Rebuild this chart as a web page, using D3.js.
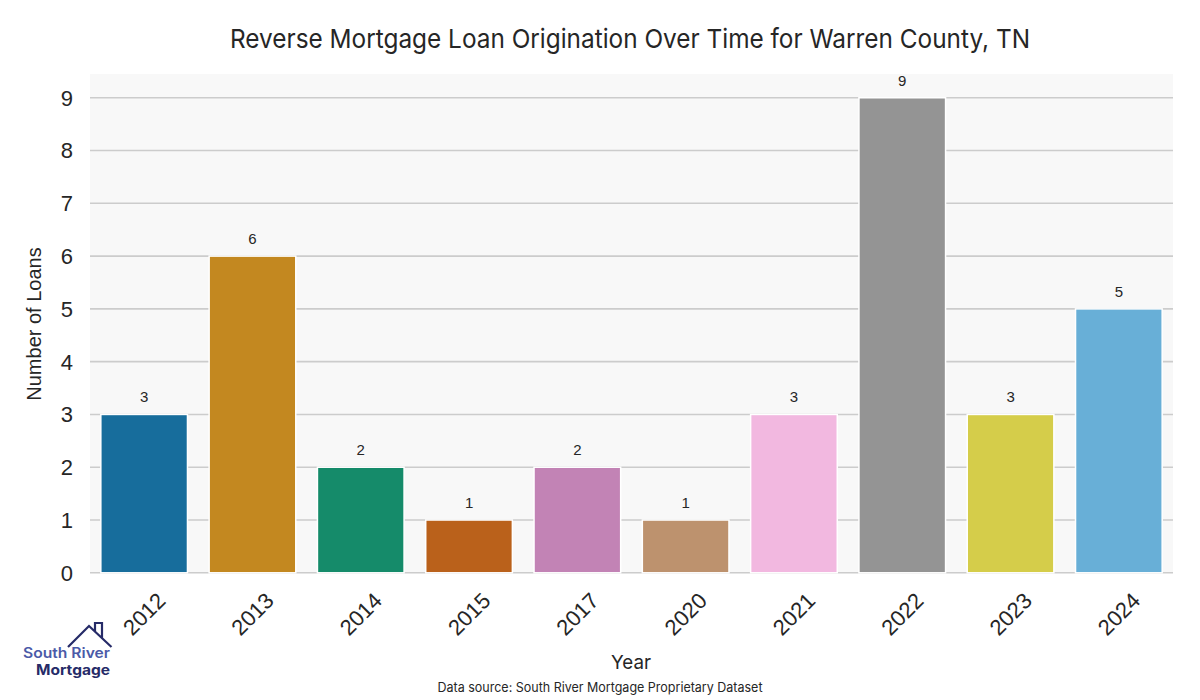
<!DOCTYPE html>
<html><head><meta charset="utf-8">
<script src="https://cdn.jsdelivr.net/npm/d3@7"></script>
<style>body{margin:0;background:#fff}svg{display:block}</style>
</head><body>
<svg id="c" width="1200" height="700"></svg>
<script>
const years = ["2012","2013","2014","2015","2017","2020","2021","2022","2023","2024"];
const loans = [3,6,2,1,2,1,3,9,3,5];
const palette = ["#0173b2","#de8f05","#029e73","#d55e00","#cc78bc","#ca9161","#fbafe4","#949494","#ece133","#56b4e9"];
const yTicks = [0,1,2,3,4,5,6,7,8,9];
const title = "Reverse Mortgage Loan Origination Over Time for Warren County, TN";
const xLabel = "Year", yLabel = "Number of Loans";
const source = "Data source: South River Mortgage Proprietary Dataset";

const svg = d3.select("#c");
const L = 90, R = 1173, T = 74, B = 572.8;
const x = d3.scaleBand().domain(years).range([L, R]).paddingInner(0.2).paddingOuter(0.1);
const y = d3.scaleLinear().domain([0, 9.45]).range([B, T]);
const desat = c => { const h = d3.hsl(c); h.s *= 0.75; return h.formatHex(); };

svg.append("rect").attr("x", L).attr("y", T).attr("width", R - L).attr("height", B - T).attr("fill", "#f8f8f8");

svg.append("g").selectAll("line").data(yTicks).join("line")
  .attr("x1", L).attr("x2", R).attr("y1", d => y(d)).attr("y2", d => y(d))
  .attr("stroke", "#cccccc").attr("stroke-width", 1.6);

svg.append("g").selectAll("rect").data(loans).join("rect")
  .attr("x", (d, i) => x(years[i])).attr("width", x.bandwidth())
  .attr("y", d => y(d)).attr("height", d => y(0) - y(d))
  .attr("fill", (d, i) => desat(palette[i]))
  .attr("stroke", "#fff").attr("stroke-width", 1.5);

svg.append("g").selectAll("text").data(loans).join("text")
  .attr("x", (d, i) => x(years[i]) + x.bandwidth() / 2).attr("y", d => y(d) - 12)
  .attr("text-anchor", "middle").attr("font-family", "Liberation Sans, Arial, sans-serif")
  .attr("font-size", 15).attr("fill", "#262626").text(d => d);

// y axis tick labels
svg.append("g").selectAll("text").data(yTicks).join("text")
  .attr("x", 73).attr("y", d => y(d)).attr("dy", "0.36em")
  .attr("text-anchor", "end").attr("font-family", "Liberation Sans, Arial, sans-serif")
  .attr("font-size", 22).attr("fill", "#262626").text(d => d);

// x axis tick labels
svg.append("g").selectAll("text").data(years).join("text")
  .attr("transform", d => `translate(${x(d) + x.bandwidth() / 2},614) rotate(-45)`)
  .attr("text-anchor", "middle").attr("dy", "0.35em")
  .attr("font-family", "Liberation Sans, Arial, sans-serif")
  .attr("font-size", 22).attr("fill", "#262626").text(d => d);

svg.append("text").attr("transform", "translate(41,324) rotate(-90)")
  .attr("text-anchor", "middle").attr("font-family", "Liberation Sans, Arial, sans-serif")
  .attr("font-size", 20).attr("fill", "#262626").text(yLabel);

svg.append("text").attr("x", 631).attr("y", 669).attr("text-anchor", "middle")
  .attr("font-family", "Inter, sans-serif").attr("font-size", 19).attr("fill", "#262626")
  .attr("textLength", 40).attr("lengthAdjust", "spacingAndGlyphs").text(xLabel);

svg.append("text").attr("x", 630).attr("y", 47.5).attr("text-anchor", "middle")
  .attr("font-family", "Inter, sans-serif").attr("font-size", 26).attr("fill", "#262626")
  .attr("textLength", 800).attr("lengthAdjust", "spacingAndGlyphs").text(title);

svg.append("text").attr("x", 600).attr("y", 692).attr("text-anchor", "middle")
  .attr("font-family", "Inter, sans-serif").attr("font-size", 13).attr("fill", "#262626")
  .attr("textLength", 325).attr("lengthAdjust", "spacingAndGlyphs").text(source);

// logo
const logo = svg.append("g");
logo.append("path").attr("d", "M68,647 L89,626 L111.5,647 M95,632 L95,623 L102,623 L102,638")
  .attr("fill", "none").attr("stroke", "#262b68").attr("stroke-width", 2.2).attr("stroke-linejoin", "miter");
logo.append("text").attr("x", 23).attr("y", 658).attr("font-family", "Inter, sans-serif")
  .attr("font-weight", 600).attr("font-size", 14).attr("fill", "#4b5aa8")
  .attr("textLength", 87).attr("lengthAdjust", "spacingAndGlyphs").text("South River");
logo.append("text").attr("x", 36).attr("y", 674.5).attr("font-family", "Inter, sans-serif")
  .attr("font-weight", 700).attr("font-size", 14).attr("fill", "#262b68")
  .attr("textLength", 74).attr("lengthAdjust", "spacingAndGlyphs").text("Mortgage");
</script>
</body></html>
